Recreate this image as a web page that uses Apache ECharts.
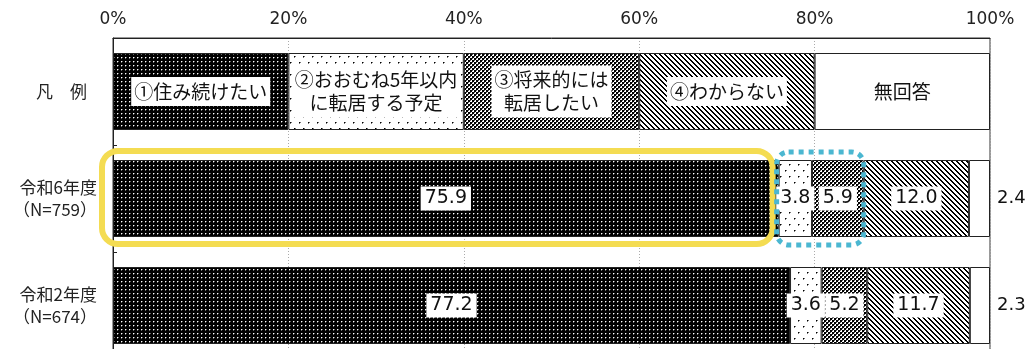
<!DOCTYPE html>
<html><head><meta charset="utf-8">
<script src="https://cdn.jsdelivr.net/npm/echarts@6/dist/echarts.min.js"></script>
<style>html,body{margin:0;padding:0;background:#fff}#c{width:1027px;height:349px}</style>
</head><body><div id="c"></div>
<script>
const categories = ['凡 例', '令和6年度\n（N=759）', '令和2年度\n（N=674）'];
const seriesNames = ['①住み続けたい', '②おおむね5年以内\nに転居する予定', '③将来的には\n転居したい', '④わからない', '無回答'];
const legendRowValues = [20, 20, 20, 20, 20];
const r6Values = [75.9, 3.8, 5.9, 12.0, 2.4];
const r2Values = [77.2, 3.6, 5.2, 11.7, 2.3];
const xTicks = [0, 20, 40, 60, 80, 100];

const FONT = '"Noto Sans CJK JP", "Noto Sans", sans-serif';
const NUMFONT = '"DejaVu Sans", "Noto Sans CJK JP", sans-serif';

function makePattern(w, h, bg, draw) {
  const c = document.createElement('canvas');
  c.width = w; c.height = h;
  const x = c.getContext('2d');
  x.fillStyle = bg; x.fillRect(0, 0, w, h);
  draw(x);
  return { image: c, repeat: 'repeat' };
}
const patterns = [
  makePattern(4, 4, '#000', x => { x.fillStyle = '#fff'; x.fillRect(1, 1, 1, 1); x.fillStyle = '#666'; x.fillRect(2, 1, 1, 1); x.fillRect(1, 2, 1, 1); }),
  makePattern(9, 12, '#fff', x => { x.fillStyle = '#000'; x.fillRect(2, 2, 1, 1); x.fillRect(6, 8, 1, 1); x.fillStyle = '#777'; x.fillRect(3, 2, 1, 1); x.fillRect(7, 8, 1, 1); x.fillRect(2, 3, 1, 1); x.fillRect(6, 9, 1, 1); }),
  makePattern(4, 4, '#fff', x => { x.fillStyle = '#000'; x.fillRect(0, 0, 2, 2); x.fillRect(2, 2, 2, 2); x.fillStyle = '#555'; x.fillRect(2, 0, 1, 1); x.fillRect(0, 2, 1, 1); }),
  makePattern(5, 5, '#fff', x => { x.fillStyle = '#000'; for (let i = 0; i < 5; i++) { x.fillRect(i, i, 1, 1); x.fillRect((i + 1) % 5, i, 1, 1); } }),
  '#fff'
];

const chart = echarts.init(document.getElementById('c'), null, { renderer: 'canvas' });
const BAR_W = 77;

function valueLabel(last) {
  return last
    ? { show: true, position: 'right', distance: 7, formatter: p => p.value.toFixed(1), fontSize: 18, color: '#111', fontFamily: NUMFONT }
    : { show: true, position: 'inside', formatter: p => p.value.toFixed(1), fontSize: 19, color: '#111', fontFamily: NUMFONT, backgroundColor: '#fff', padding: [3, 4, 2, 4] };
}

const series = seriesNames.map((name, i) => {
  const last = i === seriesNames.length - 1;
  return {
    name, type: 'bar', stack: 'all', barWidth: BAR_W,
    itemStyle: { color: patterns[i], borderColor: '#222', borderWidth: 1 },
    data: [
      {
        value: legendRowValues[i],
        label: {
          show: true, position: 'inside', formatter: name,
          fontSize: 19, lineHeight: 23, color: '#111', fontFamily: FONT,
          backgroundColor: last ? 'transparent' : '#fff', padding: [4, 3, 2, 3]
        }
      },
      { value: r6Values[i], label: valueLabel(last) },
      { value: r2Values[i], label: valueLabel(last) }
    ]
  };
});

chart.setOption({
  animation: false,
  textStyle: { fontFamily: FONT },
  grid: { left: 113, top: 38, width: 877, height: 321, outerBoundsMode: 'none', show: true, borderColor: '#333', borderWidth: 1, backgroundColor: 'transparent' },
  xAxis: {
    type: 'value', position: 'top', min: xTicks[0], max: xTicks[xTicks.length - 1], interval: 20,
    axisLine: { show: true, lineStyle: { color: '#222' } },
    axisTick: { show: false },
    axisLabel: { formatter: '{value}%', fontSize: 17, color: '#222', margin: 10, fontFamily: NUMFONT },
    splitLine: { show: true, lineStyle: { color: '#aaa', type: [1, 2] } }
  },
  yAxis: {
    type: 'category', inverse: true, data: categories,
    axisLine: { show: true, lineStyle: { color: '#222' } },
    axisTick: { show: true, inside: true, length: 4, lineStyle: { color: '#222' } },
    axisLabel: {
      fontSize: 17, lineHeight: 22, color: '#222', margin: 16, fontFamily: FONT,
      formatter: v => v === '凡 例' ? '{l|凡　例}' : v,
      rich: { l: { fontSize: 17, color: '#222', padding: [0, 10, 0, 0], fontFamily: FONT } }
    }
  },
  series
});

// Highlight frames placed from axis scales
const p0 = chart.convertToPixel({ gridIndex: 0 }, [0, 1]);
const pA = chart.convertToPixel({ gridIndex: 0 }, [r6Values[0], 1]);
const pB = chart.convertToPixel({ gridIndex: 0 }, [r6Values[0] + r6Values[1] + r6Values[2], 1]);
const cy = p0[1];
const frameTop = cy - BAR_W / 2 - 9, frameBot = cy + BAR_W / 2 + 7;
chart.setOption({
  graphic: [
    {
      type: 'rect', z: 100,
      shape: { x: p0[0] - 11, y: frameTop, width: (pA[0] - 6) - (p0[0] - 11), height: frameBot - frameTop, r: 16 },
      style: { fill: 'none', stroke: '#f4dc52', lineWidth: 6 }
    },
    {
      type: 'rect', z: 101,
      shape: { x: pA[0] - 2, y: frameTop + 1, width: pB[0] - (pA[0] - 2), height: frameBot - frameTop, r: 12 },
      style: { fill: 'none', stroke: '#4bb7d1', lineWidth: 5, lineDash: [5, 5] }
    }
  ]
});
</script>
</body></html>
